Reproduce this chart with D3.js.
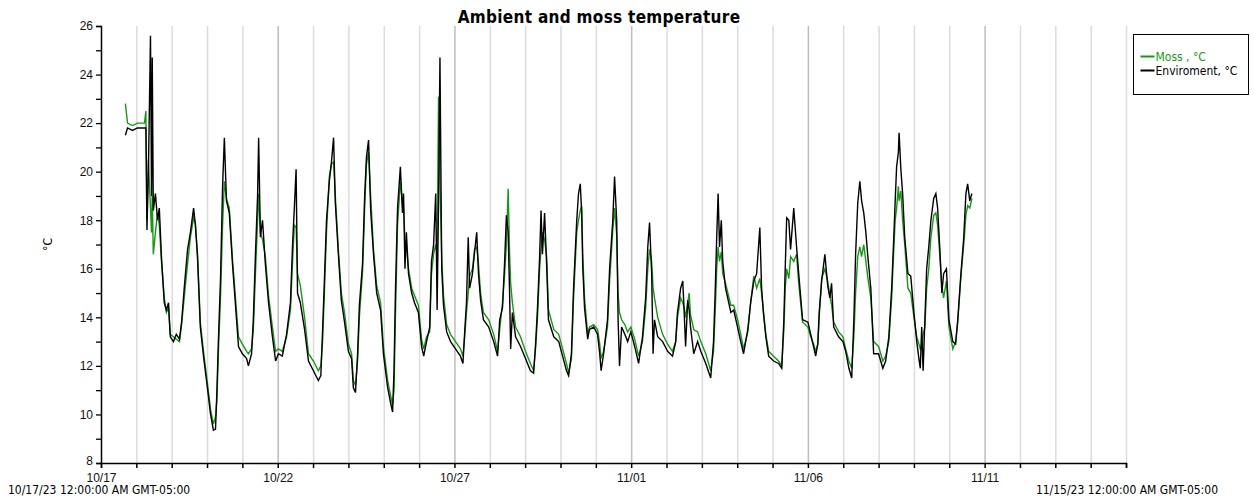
<!DOCTYPE html>
<html>
<head>
<meta charset="utf-8">
<script src="https://cdn.jsdelivr.net/npm/d3@7"></script>
<style>
  body { margin: 0; background: #fff; }
  svg { display: block; font-family: Tahoma, "DejaVu Sans Condensed", "Noto Sans", sans-serif; }
</style>
</head>
<body>
<div id="chart"></div>
<script>
// days since 10/17/23 00:00, shared by both series
const days = [
  0.69, 0.75, 0.89, 1.03, 1.23, 1.27, 1.30, 1.34, 1.40, 1.43, 1.45, 1.48, 1.54, 1.60, 1.65, 1.71, 1.79, 1.85, 1.91, 1.96,
  2.05, 2.13, 2.22, 2.28, 2.36, 2.45, 2.53, 2.62, 2.67, 2.73, 2.81, 2.90, 3.01, 3.10, 3.18, 3.24, 3.28, 3.32, 3.38, 3.44,
  3.49, 3.55, 3.63, 3.72, 3.80, 3.89, 4.00, 4.12, 4.17, 4.26, 4.31, 4.37, 4.43, 4.46, 4.51, 4.57, 4.65, 4.74, 4.85, 4.94,
  5.02, 5.13, 5.25, 5.36, 5.42, 5.47, 5.52, 5.56, 5.64, 5.76, 5.87, 6.01, 6.15, 6.22, 6.27, 6.32, 6.38, 6.46, 6.52, 6.58,
  6.63, 6.72, 6.80, 6.89, 7.00, 7.09, 7.14, 7.20, 7.26, 7.31, 7.40, 7.46, 7.51, 7.57, 7.63, 7.71, 7.80, 7.91, 7.99, 8.11,
  8.19, 8.25, 8.29, 8.33, 8.39, 8.47, 8.53, 8.56, 8.60, 8.64, 8.70, 8.79, 8.87, 8.98, 9.07, 9.13, 9.21, 9.30, 9.35, 9.41,
  9.47, 9.51, 9.55, 9.59, 9.64, 9.69, 9.78, 9.89, 10.03, 10.17, 10.24, 10.29, 10.34, 10.39, 10.43, 10.51, 10.57, 10.63, 10.68, 10.74,
  10.82, 10.97, 11.11, 11.22, 11.28, 11.36, 11.42, 11.47, 11.52, 11.56, 11.59, 11.64, 11.73, 11.87, 12.01, 12.15, 12.24, 12.30, 12.35, 12.41,
  12.45, 12.49, 12.55, 12.61, 12.66, 12.81, 12.95, 13.06, 13.17, 13.23, 13.31, 13.37, 13.46, 13.51, 13.56, 13.60, 13.63, 13.68, 13.77, 13.82,
  13.94, 14.05, 14.11, 14.15, 14.22, 14.33, 14.39, 14.48, 14.53, 14.59, 14.63, 14.67, 14.73, 14.82, 14.90, 14.99, 15.10, 15.21, 15.32, 15.41,
  15.47, 15.52, 15.58, 15.62, 15.66, 15.75, 15.89, 16.03, 16.17, 16.26, 16.31, 16.40, 16.46, 16.50, 16.54, 16.60, 16.64, 16.68, 16.77, 16.88,
  16.97, 17.11, 17.25, 17.33, 17.38, 17.42, 17.46, 17.50, 17.55, 17.59, 17.67, 17.82, 17.90, 18.01, 18.10, 18.18, 18.30, 18.38, 18.47, 18.55,
  18.64, 18.69, 18.74, 18.81, 18.89, 19.03, 19.17, 19.26, 19.32, 19.36, 19.40, 19.46, 19.51, 19.60, 19.68, 19.74, 19.85, 20.00, 20.08, 20.16,
  20.22, 20.28, 20.32, 20.39, 20.48, 20.56, 20.62, 20.67, 20.73, 20.87, 20.99, 21.07, 21.16, 21.24, 21.30, 21.35, 21.41, 21.47, 21.52, 21.58,
  21.64, 21.69, 21.78, 21.86, 22.00, 22.12, 22.20, 22.29, 22.37, 22.43, 22.47, 22.51, 22.56, 22.58, 22.63, 22.68, 22.74, 22.83, 22.91, 23.00,
  23.08, 23.14, 23.18, 23.22, 23.26, 23.31, 23.36, 23.42, 23.48, 23.56, 23.62, 23.67, 23.73, 23.79, 23.84, 23.92, 23.99, 24.10, 24.18, 24.24,
  24.33, 24.41, 24.47, 24.52, 24.58, 24.64
]

// Moss , °C
const moss = [
  22.8, 22.0, 21.9, 22.0, 22.0, 22.5, 18.0, 20.5, 18.5, 17.5, 19.0, 16.6, 17.5, 18.3, 17.8, 16.3, 14.8, 14.2, 14.4, 13.3,
  13.2, 13.1, 13.0, 13.7, 14.9, 16.2, 17.3, 18.1, 17.9, 16.6, 13.8, 12.6, 11.3, 10.2, 9.6, 9.9, 10.6, 12.5, 14.8, 17.8,
  19.6, 18.9, 18.5, 16.4, 14.9, 13.2, 12.9, 12.6, 12.5, 12.7, 13.5, 15.8, 18.0, 19.1, 17.5, 17.2, 16.5, 14.9, 13.6, 12.6,
  12.7, 12.6, 13.2, 14.3, 16.3, 17.8, 17.7, 15.8, 15.3, 14.0, 12.5, 12.2, 11.8, 12.0, 13.0, 15.0, 17.5, 19.8, 20.3, 20.4,
  19.0, 16.7, 15.0, 14.2, 12.9, 12.5, 11.4, 11.2, 12.2, 14.0, 15.9, 18.5, 20.3, 20.8, 19.0, 16.8, 15.3, 14.6, 12.8, 11.4,
  10.8, 10.4, 11.0, 14.0, 17.8, 19.6, 18.7, 18.5, 17.2, 16.9, 16.0, 15.2, 14.9, 14.5, 13.1, 12.7, 13.2, 13.4, 15.8, 16.6,
  17.0, 16.5, 23.1, 19.5, 16.5, 14.9, 13.7, 13.3, 13.0, 12.7, 12.4, 13.2, 14.2, 15.0, 15.7, 16.0, 16.8, 16.9, 16.2, 15.0,
  14.2, 13.9, 13.3, 12.6, 13.5, 14.6, 15.8, 17.0, 19.3, 16.6, 15.4, 14.6, 13.6, 13.2, 12.6, 12.1, 11.8, 12.8, 14.0, 16.0,
  16.8, 17.5, 17.2, 16.5, 14.3, 13.5, 13.3, 12.7, 12.1, 11.7, 12.3, 14.8, 17.5, 18.0, 18.4, 18.6, 16.6, 14.8, 13.3, 13.6,
  13.7, 13.5, 12.9, 12.3, 12.6, 13.6, 15.5, 17.6, 18.5, 17.4, 15.0, 14.2, 13.9, 13.7, 13.4, 13.6, 13.1, 12.4, 13.0, 14.4,
  16.0, 16.8, 16.3, 15.2, 14.8, 14.0, 13.3, 12.9, 12.6, 13.0, 14.0, 14.8, 14.6, 14.4, 14.0, 14.6, 15.0, 14.1, 13.5, 13.4,
  13.0, 12.5, 11.8, 12.6, 14.3, 16.0, 16.9, 16.3, 16.7, 15.8, 15.4, 14.5, 14.5, 13.9, 13.3, 12.7, 13.4, 14.6, 15.7, 15.2,
  15.6, 15.0, 14.3, 13.3, 12.6, 12.4, 12.2, 12.0, 13.5, 15.2, 16.0, 15.6, 16.5, 16.3, 16.6, 15.4, 13.8, 13.6, 13.2, 12.9,
  12.6, 12.9, 14.0, 15.6, 16.0, 15.5, 14.9, 14.5, 13.8, 13.4, 13.2, 12.7, 12.2, 11.9, 13.2, 15.0, 16.5, 16.9, 16.5, 17.0,
  16.3, 15.7, 14.8, 13.0, 12.8, 12.2, 12.4, 13.0, 14.8, 16.8, 18.0, 18.5, 19.4, 18.8, 19.2, 18.0, 17.0, 15.2, 15.0, 14.0,
  13.2, 12.9, 12.7, 12.9, 13.3, 13.6, 15.2, 16.0, 17.3, 18.2, 18.3, 17.8, 16.6, 15.3, 14.8, 15.5, 13.6, 12.7, 13.0, 13.8,
  15.7, 17.0, 18.2, 18.6, 18.5, 18.9
]

// Enviroment, °C
const env = [
  21.5, 21.8, 21.7, 21.8, 21.8, 21.8, 17.6, 19.9, 25.6, 19.0, 24.7, 18.4, 19.1, 18.0, 18.5, 16.5, 14.6, 14.3, 14.6, 13.2,
  13.0, 13.3, 13.1, 13.8, 15.3, 16.8, 17.5, 18.5, 17.8, 16.5, 13.6, 12.4, 11.1, 10.0, 9.35, 9.4, 11.0, 13.0, 15.5, 19.4,
  21.4, 18.8, 18.3, 16.2, 14.6, 12.8, 12.5, 12.3, 12.0, 12.5, 13.9, 16.6, 19.0, 21.4, 17.3, 18.0, 16.2, 14.6, 13.2, 12.2,
  12.5, 12.4, 13.3, 14.6, 17.0, 18.5, 20.1, 15.0, 14.6, 13.5, 12.2, 11.8, 11.4, 11.6, 13.5, 15.5, 18.0, 19.6, 20.4, 21.4,
  18.7, 16.5, 14.7, 13.8, 12.6, 12.3, 11.1, 10.9, 12.5, 14.5, 16.2, 19.0, 20.6, 21.3, 18.4, 16.6, 15.0, 14.3, 12.5, 11.1,
  10.5, 10.1, 11.8, 15.0, 18.5, 20.2, 18.3, 19.1, 16.0, 17.5, 15.8, 15.0, 14.6, 14.2, 12.8, 12.4, 13.0, 13.6, 16.3, 17.0,
  19.1, 14.3, 18.8, 24.7, 16.0, 14.5, 13.4, 13.0, 12.7, 12.4, 12.1, 13.4, 14.6, 17.3, 15.2, 15.8, 16.7, 17.5, 15.8, 14.7,
  13.9, 13.6, 13.0, 12.4, 13.9, 14.4, 16.3, 18.2, 17.5, 15.0, 12.7, 14.2, 13.2, 12.8, 12.3, 11.8, 11.7, 13.0, 14.4, 16.5,
  18.4, 16.6, 18.3, 16.1, 13.9, 13.2, 13.0, 12.4, 11.8, 11.6, 12.5, 15.2, 18.0, 19.1, 19.5, 18.3, 16.1, 14.4, 13.1, 13.5,
  13.6, 13.3, 12.5, 11.8, 12.5, 13.9, 16.0, 18.0, 19.8, 18.0, 13.9, 12.0, 13.6, 13.3, 13.0, 13.4, 12.8, 12.1, 13.2, 14.8,
  16.9, 17.9, 15.8, 12.5, 13.9, 13.2, 13.0, 12.6, 12.4, 13.0, 14.2, 15.2, 15.5, 14.2, 12.8, 14.7, 14.3, 13.6, 12.5, 13.0,
  12.6, 12.1, 11.5, 13.0, 15.2, 17.3, 19.1, 16.9, 18.0, 16.3, 15.2, 14.2, 14.3, 13.6, 13.0, 12.5, 13.5, 14.6, 15.5, 15.8,
  17.7, 15.2, 14.2, 13.2, 12.4, 12.2, 12.1, 11.9, 13.9, 16.1, 18.1, 18.0, 16.8, 18.5, 16.9, 15.8, 13.9, 13.8, 13.3, 12.8,
  12.4, 12.9, 14.2, 15.5, 16.6, 15.3, 14.8, 15.4, 13.6, 13.2, 13.0, 12.6, 11.9, 11.5, 13.9, 16.6, 18.7, 19.6, 18.8, 18.3,
  17.5, 16.6, 15.2, 12.5, 12.5, 11.9, 12.2, 13.2, 15.2, 17.3, 18.8, 20.2, 20.8, 21.6, 20.1, 19.1, 17.3, 15.8, 15.7, 14.2,
  13.0, 12.3, 11.9, 13.6, 11.8, 13.9, 16.0, 16.9, 18.0, 18.9, 19.1, 18.5, 16.9, 15.0, 15.8, 16.0, 13.9, 13.0, 12.9, 13.9,
  15.8, 17.3, 19.1, 19.5, 18.8, 19.1
]

const yTicks = d3.range(8, 27, 1)
const seriesNames = ['Moss , °C', 'Enviroment, °C']
const seriesColors = ['#139a13', '#000']

const width = 1254
const height = 496
const margin = { top: 26, right: 128, bottom: 33, left: 101 }

const start = new Date(Date.UTC(2023, 9, 17))
const end = new Date(Date.UTC(2023, 10, 15))
const toDate = d => new Date(start.getTime() + d * 864e5)

const svg = d3.select('#chart')
  .append('svg')
  .attr('width', width)
  .attr('height', height)

const x = d3.scaleUtc()
  .domain([start, end])
  .range([margin.left, width - margin.right])

const y = d3.scaleLinear()
  .domain([8, 26])
  .range([height - margin.bottom, margin.top])

const dayTicks = d3.utcDay.range(start, d3.utcDay.offset(end, 1))
const isMajor = d => Math.round((d - start) / 864e5) % 5 === 0

// vertical grid, one per day
svg.append('g')
  .selectAll('line')
  .data(dayTicks.filter(d => d > start))
  .join('line')
  .attr('x1', d => x(d) + 0.5)
  .attr('x2', d => x(d) + 0.5)
  .attr('y1', y(26))
  .attr('y2', y(8))
  .attr('stroke', d => isMajor(d) ? '#bdbdbd' : '#dcdcdc')
  .attr('stroke-width', 1.5)

// series
const line = d3.line()
  .x((d, i) => x(toDate(days[i])))
  .y(d => y(d))

svg.append('path')
  .datum(moss)
  .attr('fill', 'none')
  .attr('stroke', seriesColors[0])
  .attr('stroke-width', 1.4)
  .attr('d', line)

svg.append('path')
  .datum(env)
  .attr('fill', 'none')
  .attr('stroke', seriesColors[1])
  .attr('stroke-width', 1.4)
  .attr('d', line)

// x axis
const xAxis = svg.append('g')
  .attr('transform', `translate(0,${y(8)})`)
  .call(d3.axisBottom(x)
    .tickValues(dayTicks)
    .tickSize(5)
    .tickFormat(d => isMajor(d) && d < end ? d3.utcFormat('%m/%d')(d) : ''))
xAxis.select('.domain').attr('stroke', '#000').attr('stroke-width', 1.5)
xAxis.selectAll('.tick line').attr('stroke', '#000').attr('stroke-width', 1.5)
xAxis.selectAll('.tick text')
  .attr('font-size', 12)
  .attr('font-family', null)
  .attr('fill', '#111')
  .attr('y', 9)
  .attr('dy', '0.85em')

// y axis
const yAxis = svg.append('g')
  .attr('transform', `translate(${margin.left},0)`)
  .call(d3.axisLeft(y)
    .tickValues(yTicks)
    .tickSize(5)
    .tickFormat(d => d % 2 === 0 ? d : ''))
yAxis.select('.domain').attr('stroke', '#000').attr('stroke-width', 1.5)
yAxis.selectAll('.tick line').attr('stroke', '#000').attr('stroke-width', 1.3)
yAxis.selectAll('.tick text')
  .attr('font-size', 12)
  .attr('font-family', null)
  .attr('fill', '#111')
  .attr('dy', d => d === 8 ? '0.1em' : '0.32em')

svg.append('text')
  .attr('transform', `translate(52,${(y(8) + y(26)) / 2}) rotate(-90)`)
  .attr('text-anchor', 'middle')
  .attr('font-size', 12)
  .text('°C')

// title
svg.append('text')
  .attr('x', 599)
  .attr('y', 23)
  .attr('text-anchor', 'middle')
  .attr('font-size', 17)
  .attr('font-weight', 'bold')
  .attr('letter-spacing', 0.3)
  .text('Ambient and moss temperature')

// range labels under the axis
const fullFmt = d3.utcFormat('%m/%d/%y 12:00:00 AM GMT-05:00')
svg.append('text')
  .attr('x', 8)
  .attr('y', 494)
  .attr('font-size', 12)
  .text(fullFmt(start))
svg.append('text')
  .attr('x', 1218)
  .attr('y', 494)
  .attr('text-anchor', 'end')
  .attr('font-size', 12)
  .text(fullFmt(end))

// legend
const legend = svg.append('g').attr('transform', 'translate(1133.5,34.5)')
legend.append('rect')
  .attr('width', 115)
  .attr('height', 60)
  .attr('fill', '#fff')
  .attr('stroke', '#000')
legend.selectAll('g.item')
  .data(seriesNames)
  .join('g')
  .attr('class', 'item')
  .attr('transform', (d, i) => `translate(7,${22 + i * 14})`)
  .each(function(d, i) {
    const g = d3.select(this)
    g.append('line')
      .attr('x1', 0).attr('x2', 14)
      .attr('stroke', seriesColors[i])
      .attr('stroke-width', 2)
    g.append('text')
      .attr('x', 15)
      .attr('dy', '0.35em')
      .attr('font-size', 12)
      .attr('fill', seriesColors[i])
      .text(d)
  })
</script>
</body>
</html>
